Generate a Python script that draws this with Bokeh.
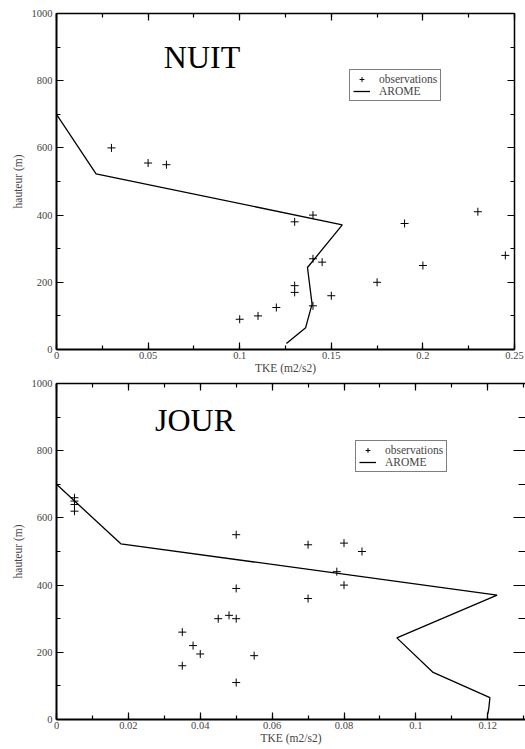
from bokeh.plotting import figure
from bokeh.models import (Range1d, LinearAxis, SingleIntervalTicker, CustomJSTickFormatter,
                          Label, Legend, LegendItem)
from bokeh.layouts import column
from bokeh.embed import file_html
from bokeh.resources import INLINE

# ---------------- data ----------------
nuit_obs_tke = [0.03, 0.05, 0.06, 0.14, 0.13, 0.19, 0.23, 0.14, 0.145, 0.245,
                0.2, 0.175, 0.13, 0.13, 0.15, 0.14, 0.12, 0.11, 0.1]
nuit_obs_h = [600, 555, 550, 400, 380, 375, 410, 270, 260, 280,
              250, 200, 190, 170, 160, 130, 125, 100, 90]
nuit_model_tke = [0.0, 0.0216, 0.156, 0.137, 0.1395, 0.136, 0.1255]
nuit_model_h = [700, 523, 371, 244, 135, 65, 18]

jour_obs_tke = [0.005, 0.005, 0.005, 0.005, 0.05, 0.07, 0.08, 0.085, 0.078, 0.08,
                0.05, 0.07, 0.048, 0.045, 0.05, 0.035, 0.038, 0.04, 0.055, 0.035, 0.05]
jour_obs_h = [660, 650, 640, 620, 550, 520, 525, 500, 440, 400,
              390, 360, 310, 300, 300, 260, 220, 195, 190, 160, 110]
jour_model_tke = [0.0, 0.0179, 0.1226, 0.0947, 0.1048, 0.1206, 0.1203, 0.12]
jour_model_h = [700, 523, 370, 243, 140, 65, 34, 16]

FONT = "Liberation Serif"
fmt = CustomJSTickFormatter(code="return String(parseFloat(tick.toFixed(4)));")


def make_panel(title, obs_x, obs_y, mod_x, mod_y, xmax, xint, frame_w,
               mb_top, mb_right, title_xy, legend_loc, right_tick=(7, 4), right_line=True):
    p = figure(frame_width=frame_w, frame_height=336,
               x_range=Range1d(0, xmax), y_range=Range1d(0, 1000),
               output_backend="svg", toolbar_location=None,
               min_border_left=56, min_border_top=mb_top, min_border_right=mb_right,
               min_border_bottom=0, x_axis_location=None, y_axis_location=None,
               background_fill_color="white", border_fill_color="white",
               outline_line_color=None)
    p.grid.visible = False

    def xt():
        return SingleIntervalTicker(interval=xint, num_minor_ticks=2)

    def yt():
        return SingleIntervalTicker(interval=200, num_minor_ticks=2)

    common = dict(major_tick_out=0, minor_tick_out=0, major_tick_in=7, minor_tick_in=4,
                  axis_line_color="black", major_tick_line_color="black",
                  minor_tick_line_color="black", major_tick_line_width=1.2,
                  minor_tick_line_width=1.2)
    hidden = dict(major_label_text_color=None, major_label_text_font_size="1px",
                  major_label_standoff=0)

    xb = LinearAxis(ticker=xt(), formatter=fmt, axis_label="TKE (m2/s2)",
                    major_label_standoff=2, axis_label_standoff=0,
                    major_label_text_font=FONT, major_label_text_font_size="10.5px",
                    axis_label_text_font=FONT, axis_label_text_font_size="11.5px",
                    axis_label_text_font_style="normal", axis_line_width=2, **common)
    yl = LinearAxis(ticker=yt(), axis_label="hauteur (m)",
                    major_label_standoff=4, axis_label_standoff=5,
                    major_label_text_font=FONT, major_label_text_font_size="10.5px",
                    axis_label_text_font=FONT, axis_label_text_font_size="11.5px",
                    axis_label_text_font_style="normal", axis_line_width=2, **common)
    xa = LinearAxis(ticker=xt(), axis_line_width=1.5, **hidden, **common)
    rc = dict(common)
    rc["major_tick_in"], rc["minor_tick_in"] = right_tick
    yr = LinearAxis(ticker=yt(), axis_line_width=1.5, **hidden, **rc)
    if not right_line:
        yr.axis_line_color = None
    p.add_layout(xb, "below")
    p.add_layout(yl, "left")
    p.add_layout(xa, "above")
    p.add_layout(yr, "right")

    r_obs = p.scatter(obs_x, obs_y, marker="cross", size=8, line_color="black", line_width=1)
    r_mod = p.line(mod_x, mod_y, line_color="black", line_width=1.3)

    p.add_layout(Label(x=title_xy[0], y=title_xy[1], text=title, text_font=FONT,
                       text_font_size="32px", text_color="black",
                       text_baseline="alphabetic"))

    leg = Legend(items=[LegendItem(label="observations", renderers=[r_obs]),
                        LegendItem(label="AROME", renderers=[r_mod])],
                 location=legend_loc, orientation="vertical",
                 label_text_font=FONT, label_text_font_size="11.5px",
                 label_height=12, glyph_height=12, glyph_width=17, label_standoff=9,
                 padding=3, spacing=0, margin=0,
                 border_line_color="black", border_line_width=1.2,
                 background_fill_color="white", background_fill_alpha=1)
    p.add_layout(leg, "center")
    return p


p1 = make_panel("NUIT", nuit_obs_tke, nuit_obs_h, nuit_model_tke, nuit_model_h,
                0.25, 0.05, 458, 13, 11, (0.0586, 872), (293, 248))
p2 = make_panel("JOUR", jour_obs_tke, jour_obs_h, jour_model_tke, jour_model_h,
                0.1305, 0.02, 469, 7, 0, (0.0274, 892), (299, 247),
                right_tick=(12, 7), right_line=False)

layout = column(p1, p2, spacing=0)
open("out.html", "w").write(file_html(layout, INLINE))
